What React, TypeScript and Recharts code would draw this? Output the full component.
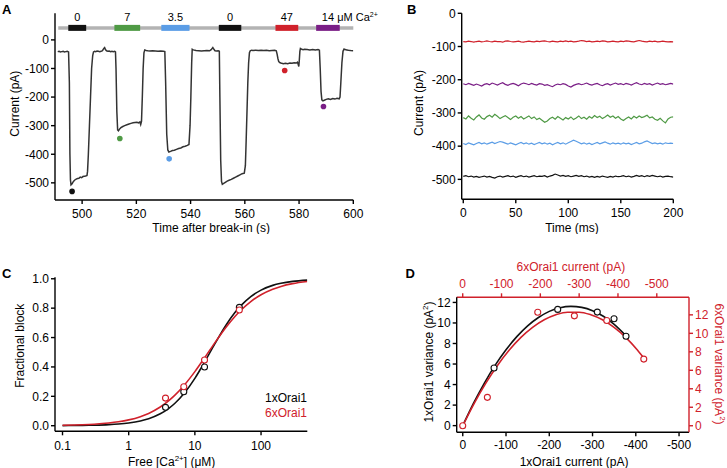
import React from 'react';
import { ComposedChart, Line, Scatter, XAxis, YAxis, ReferenceLine, Cell } from 'recharts';

const FONT = '"Liberation Sans", Arial, Helvetica, sans-serif';
const RED = '#d0212b';
const GREEN = '#4f9a45';
const BLUE = '#5b9de6';
const PURPLE = '#7a1e86';
const BLACK = '#111111';

// ---------- Panel A data ----------
const aTime = [
  491, 491.5, 492, 492.5, 493, 493.5, 494, 494.5, 495,
  495.3, 495.5, 495.7, 495.9, 496.3, 496.8, 497.3, 497.8, 498.3, 498.8, 499.3, 499.8, 500.3, 500.8, 501.3, 501.8,
  502.0, 502.3, 502.7, 503.1, 503.5, 503.9, 504.2, 504.6, 505, 505.5, 506, 506.5, 507, 507.5, 508.0, 508.3, 508.6, 509, 509.5, 510, 510.5, 511, 511.5, 512, 512.3,
  512.5, 512.8, 513.1, 513.4, 513.8, 514.3, 515, 515.7, 516.5, 517.3, 518, 518.8, 519.5, 520.2, 520.8, 521.3, 521.6, 521.9, 522.2, 522.5, 522.8, 523.1, 523.6, 524.2, 525, 526, 527, 528, 529, 530, 530.5,
  530.8, 531.2, 531.6, 532, 532.6, 533.3, 534, 534.8, 535.6, 536.4, 537.2, 538, 538.8, 539.4, 539.8, 540.1, 540.4, 540.6, 541, 542, 543, 544, 545, 546, 547, 547.6, 548.2, 548.6, 549, 549.6, 550.2, 550.6,
  550.8, 551.1, 551.4, 551.7, 552.2, 552.8, 553.5, 554.2, 555, 555.8, 556.6, 557.4, 558.2, 559, 559.8, 560.2, 560.5, 560.8, 561.1, 561.4, 561.7, 562, 562.5, 563, 564, 565, 566, 567, 568, 569, 570, 571, 571.6,
  571.9, 572.2, 572.5, 573, 573.6, 574.2, 575, 575.8, 576.6, 577.4, 578.2, 579, 579.4, 579.7, 579.9, 580.1, 580.3, 580.5, 581, 581.5, 582, 583, 584, 585, 586, 587, 587.5,
  587.8, 588.1, 588.4, 588.8, 589.3, 590, 590.8, 591.6, 592.4, 593.2, 594, 594.8, 595.1, 595.4, 595.8, 596.2, 596.6, 597, 597.6, 598.2, 599, 600,
];
const aCurrent = [
  -41, -40, -42, -41, -40, -42, -41, -40, -42,
  -150, -400, -490, -507, -503, -495, -490, -487, -485, -484, -480, -482, -478, -477, -476, -474,
  -460, -400, -300, -200, -100, -55, -42, -40, -41, -39, -40, -41, -40, -38, -30, -27, -34, -38, -40, -39, -41, -40, -41, -40, -42,
  -100, -250, -315, -318, -312, -307, -303, -300, -297, -294, -292, -290, -289, -288, -290, -287, -296, -285, -200, -100, -45, -35, -37, -38, -39, -38, -39, -40, -39, -40, -41,
  -150, -330, -385, -392, -390, -387, -386, -383, -380, -378, -374, -372, -369, -366, -300, -200, -80, -33, -35, -37, -38, -39, -38, -37, -38, -34, -27, -33, -38, -39, -38, -40,
  -200, -420, -495, -505, -502, -498, -494, -491, -488, -484, -480, -476, -472, -468, -466, -440, -350, -250, -150, -80, -45, -38, -36, -37, -36, -37, -36, -37, -36, -38, -37, -36, -38,
  -50, -65, -76, -80, -82, -83, -82, -83, -81, -82, -80, -81, -78, -86, -93, -70, -40, -30, -33, -34, -33, -34, -35, -34, -35, -34, -36,
  -100, -180, -210, -213, -211, -208, -206, -208, -205, -207, -204, -206, -200, -150, -80, -40, -32, -34, -35, -36, -37, -38,
];
const aDotTime = [496.3, 513.9, 532.1, 574.7, 589.0];
const aDotCurrent = [-530, -345, -416, -107, -233];
const aDotColors = [BLACK, GREEN, BLUE, RED, PURPLE];
const aTicksX = [500, 520, 540, 560, 580, 600];
const aTicksY = [0, -100, -200, -300, -400, -500];
const barStart = [494.9, 511.9, 529.2, 550.4, 571.3, 586.3];
const barEnd = [501.5, 521.4, 539.6, 558.7, 579.7, 595.0];
const barLabels = ['0', '7', '3.5', '0', '47', '14'];
const barUnits = ['', '', '', '', '', ' \u03bcM Ca'];
const barColors = [BLACK, GREEN, BLUE, BLACK, RED, PURPLE];
const BAR_LEVEL = 42;
const BAR_FROM = 491.2;
const BAR_TO = 600;

// ---------- Panel B data ----------
const bTime = [
  0, 2.5, 5, 7.5, 10, 12.5, 15, 17.5, 20, 22.5, 25, 27.5, 30, 32.5, 35, 37.5, 40, 42.5, 45, 47.5,
  50, 52.5, 55, 57.5, 60, 62.5, 65, 67.5, 70, 72.5, 75, 77.5, 80, 82.5, 85, 87.5, 90, 92.5, 95, 97.5,
  100, 102.5, 105, 107.5, 110, 112.5, 115, 117.5, 120, 122.5, 125, 127.5, 130, 132.5, 135, 137.5, 140, 142.5, 145, 147.5,
  150, 152.5, 155, 157.5, 160, 162.5, 165, 167.5, 170, 172.5, 175, 177.5, 180, 182.5, 185, 187.5, 190, 192.5, 195, 197.5, 200,
];
const bRed = [
  -85, -86, -84, -85, -87, -85, -84, -86, -85, -83,
  -85, -86, -84, -85, -85, -87, -84, -83, -85, -86,
  -85, -84, -86, -87, -85, -84, -85, -86, -84, -85,
  -84, -83, -85, -86, -84, -85, -86, -84, -85, -83,
  -85, -84, -86, -85, -84, -82, -83, -85, -84, -86,
  -85, -84, -85, -83, -84, -86, -85, -84, -85, -86,
  -84, -85, -83, -84, -85, -86, -84, -82, -84, -85,
  -86, -84, -85, -84, -86, -85, -84, -85, -86, -85,
  -86,
];
const bPurple = [
  -212, -215, -211, -214, -217, -213, -216, -219, -214, -212,
  -215, -210, -213, -216, -212, -209, -214, -217, -213, -211,
  -214, -218, -213, -210, -212, -215, -211, -214, -216, -212,
  -213, -217, -215, -218, -221, -216, -213, -215, -212, -214,
  -219, -222, -217, -214, -212, -215, -213, -210, -214, -216,
  -213, -211, -215, -218, -214, -212, -216, -213, -210, -214,
  -212, -215, -211, -213, -216, -212, -209, -213, -215, -211,
  -214, -212, -216, -213, -210, -214, -212, -215, -213, -211,
  -213,
];
const bGreen = [
  -314, -318, -309, -316, -321, -312, -306, -315, -319, -311,
  -307, -313, -304, -310, -317, -312, -308, -314, -320, -313,
  -309, -316, -311, -318, -314, -309, -317, -312, -320, -316,
  -322, -328, -324, -317, -313, -319, -311, -316, -321, -314,
  -318, -312, -320, -315, -309, -317, -313, -319, -311, -316,
  -308, -314, -310, -317, -312, -306, -313, -309, -316, -311,
  -318, -323, -317, -312, -318, -310, -315, -309, -314, -311,
  -307, -315, -312, -319, -322, -316, -324, -330, -318, -313,
  -312,
];
const bBlue = [
  -392, -395, -390, -393, -396, -392, -389, -393, -390, -394,
  -391, -388, -392, -389, -386, -388, -391, -394, -390, -393,
  -396, -392, -389, -393, -390, -394, -391, -395, -392, -389,
  -393, -390, -394, -391, -396, -392, -389, -393, -390, -394,
  -390, -386, -382, -385, -389, -393, -390, -394, -391, -395,
  -392, -389, -393, -390, -387, -391, -394, -390, -393, -391,
  -394, -390, -393, -391, -395, -392, -389, -393, -391, -387,
  -384, -388, -392, -390, -393, -391, -394, -390, -392, -391,
  -392,
];
const bBlack = [
  -491, -489, -492, -490, -493, -491, -494, -492, -490, -493,
  -491, -494, -496, -492, -490, -493, -491, -489, -492, -490,
  -494, -491, -489, -492, -490, -493, -491, -489, -492, -490,
  -491, -489, -493, -490, -488, -484, -487, -490, -488, -491,
  -489, -492, -490, -488, -491, -489, -492, -490, -493, -491,
  -494, -491, -493, -490, -492, -494, -491, -493, -490, -492,
  -491, -489, -492, -490, -493, -491, -488, -491, -489, -492,
  -489, -491, -488, -490, -492, -490, -493, -491, -490, -492,
  -493,
];
const bTicksX = [0, 50, 100, 150, 200];
const bTicksY = [0, -100, -200, -300, -400, -500];

// ---------- Panel C data ----------
const cCurveX = [0.1, 0.15, 0.2, 0.3, 0.5, 0.7, 1, 1.5, 2, 3, 4, 5, 7, 10, 14, 20, 30, 40, 50, 70, 100, 150, 200, 300, 500];
const cCurveBlack = [0.0008, 0.0013, 0.002, 0.0035, 0.0071, 0.0114, 0.0186, 0.0323, 0.0476, 0.081, 0.1165, 0.1527, 0.2241, 0.3223, 0.4324, 0.5566, 0.689, 0.768, 0.819, 0.879, 0.923, 0.955, 0.969, 0.982, 0.991];
const cCurveRed = [0.0029, 0.0046, 0.0064, 0.0102, 0.0182, 0.0266, 0.0396, 0.0617, 0.0838, 0.1273, 0.1688, 0.2079, 0.2788, 0.368, 0.4617, 0.5638, 0.6732, 0.7415, 0.7876, 0.8452, 0.8916, 0.9292, 0.9481, 0.9668, 0.9813];
const cPointX = [3.6, 6.8, 14, 47];
const cPointBlack = [0.125, 0.231, 0.4, 0.805];
const cPointRed = [0.188, 0.265, 0.447, 0.787];
const cTicksX = [0.1, 1, 10, 100];
const cTicksY = [0, 0.2, 0.4, 0.6, 0.8, 1.0];

// ---------- Panel D data ----------
const dBlackI = [0, -25, -50, -75, -100, -125, -150, -175, -200, -225, -250, -275, -300, -325, -350, -378];
const dBlackV = [0, 2.19, 4.15, 5.89, 7.39, 8.67, 9.72, 10.53, 11.13, 11.49, 11.62, 11.52, 11.2, 10.65, 9.86, 8.72];
const dRedI = [0, -30, -60, -90, -120, -150, -180, -210, -240, -270, -300, -330, -360, -390, -420, -450, -466];
const dRedV = [0, 2.46, 4.64, 6.55, 8.19, 9.56, 10.65, 11.47, 12.01, 12.29, 12.29, 12.01, 11.47, 10.65, 9.56, 8.19, 7.35];
const dBlackPtI = [-72.3, -219.5, -311, -349.7, -377.4];
const dBlackPtV = [5.61, 11.32, 11.06, 10.41, 8.7];
const dRedPtI = [0, -63.5, -193.3, -287.7, -371.1, -466.5];
const dRedPtV = [0, 3.07, 12.29, 11.89, 11.39, 7.21];
const dTicksX = [0, -100, -200, -300, -400, -500];
const dTicksY = [0, 2, 4, 6, 8, 10, 12];

const zip = (xs: number[], ys: number[]) => xs.map((x, i) => ({ x, y: ys[i] }));

const aData = zip(aTime, aCurrent);
const aDots = zip(aDotTime, aDotCurrent);
const bSeries = [
  { name: 'red', color: RED, data: zip(bTime, bRed) },
  { name: 'purple', color: PURPLE, data: zip(bTime, bPurple) },
  { name: 'green', color: GREEN, data: zip(bTime, bGreen) },
  { name: 'blue', color: BLUE, data: zip(bTime, bBlue) },
  { name: 'black', color: BLACK, data: zip(bTime, bBlack) },
];
const cBlackCurve = zip(cCurveX, cCurveBlack);
const cRedCurve = zip(cCurveX, cCurveRed);
const cBlackPts = zip(cPointX, cPointBlack);
const cRedPts = zip(cPointX, cPointRed);
const dBlackCurve = zip(dBlackI, dBlackV);
const dRedCurve = zip(dRedI, dRedV);
const dBlackPts = zip(dBlackPtI, dBlackPtV);
const dRedPts = zip(dRedPtI, dRedPtV);

// ---------- styling helpers ----------
const FS = 12;
const MU = '\u03bc';
const axisLine = (c = '#000') => ({ stroke: c, strokeWidth: 1.4 });
const tickStyle = (c = '#000') => ({ fill: c, fontSize: FS, fontFamily: FONT });

const xLabel = (content: React.ReactNode, dx: number, dy: number, color = '#000') => (props: any) => {
  const vb = props.viewBox || {};
  return (
    <text x={vb.x + vb.width / 2 + dx} y={vb.y + dy} textAnchor="middle" dominantBaseline="central"
      fontSize={FS} fontFamily={FONT} fill={color}>{content}</text>
  );
};
const yLabel = (content: React.ReactNode, cx: number, dy: number, rot: number, color = '#000') => (props: any) => {
  const vb = props.viewBox || {};
  const x = vb.x + cx;
  const y = vb.y + vb.height / 2 + dy;
  return (
    <text x={x} y={y} transform={`rotate(${rot} ${x} ${y})`} textAnchor="middle" dominantBaseline="central"
      fontSize={FS} fontFamily={FONT} fill={color}>{content}</text>
  );
};
const barLabel = (i: number) => (props: any) => {
  const vb = props.viewBox || {};
  const cx = vb.x + vb.width / 2;
  const y = vb.y - 10.7;
  if (barUnits[i]) {
    return (
      <text x={cx - 6.1} y={y} textAnchor="start" dominantBaseline="central" fontSize={11} fontFamily={FONT} fill="#000">
        {barLabels[i]}{barUnits[i]}<tspan dy={-3.5} fontSize={7}>2+</tspan>
      </text>
    );
  }
  return (
    <text x={cx} y={y} textAnchor="middle" dominantBaseline="central" fontSize={11} fontFamily={FONT} fill="#000">{barLabels[i]}</text>
  );
};
const openCircle = (color: string) => (p: any) => (
  <circle cx={p.cx} cy={p.cy} r={3} fill="#fff" stroke={color} strokeWidth={1.1} />
);
const filledDot = (p: any) => <circle cx={p.cx} cy={p.cy} r={2.8} fill={p.fill} />;
const sup = (s: string) => <tspan dy={-4} fontSize={8}>{s}</tspan>;

function PanelA() {
  return (
    <ComposedChart width={385} height={234} margin={{ top: 13.3, right: 31.7, bottom: 0, left: 0 }}>
      <XAxis type="number" dataKey="x" domain={[490, 600]} ticks={aTicksX} interval={0} allowDataOverflow
        height={34} tickSize={4} tickMargin={5} axisLine={axisLine()} tickLine={axisLine()} tick={tickStyle()}
        label={xLabel('Time after break-in (s)', 7, 28.3)} />
      <YAxis type="number" dataKey="y" domain={[-560, 93]} ticks={aTicksY} interval={0} allowDataOverflow
        width={55} tickSize={4} axisLine={axisLine()} tickLine={axisLine()} tick={tickStyle()}
        label={yLabel('Current (pA)', 15, -3, -90)} />
      <ReferenceLine segment={[{ x: BAR_FROM, y: BAR_LEVEL }, { x: BAR_TO, y: BAR_LEVEL }]} stroke="#b3b3b3" strokeWidth={3.5} />
      {barStart.map((s, i) => (
        <ReferenceLine key={i} segment={[{ x: s, y: BAR_LEVEL }, { x: barEnd[i], y: BAR_LEVEL }]}
          stroke={barColors[i]} strokeWidth={6} label={barLabel(i)} />
      ))}
      <Line data={aData} dataKey="y" type="linear" stroke="#333" strokeWidth={1.5} dot={false} isAnimationActive={false} />
      <Scatter data={aDots} dataKey="y" shape={filledDot} isAnimationActive={false}>
        {aDotColors.map((c, i) => <Cell key={i} fill={c} />)}
      </Scatter>
    </ComposedChart>
  );
}

function PanelB() {
  return (
    <ComposedChart width={363} height={234} margin={{ top: 13.3, right: 53.7, bottom: 0, left: 0 }}>
      <XAxis type="number" dataKey="x" domain={[-1.5, 200]} ticks={bTicksX} interval={0} allowDataOverflow
        height={34.7} tickSize={4} tickMargin={5} axisLine={axisLine()} tickLine={axisLine()} tick={tickStyle()}
        label={xLabel('Time (ms)', 4.5, 28.7)} />
      <YAxis type="number" dataKey="y" domain={[-560, 0]} ticks={bTicksY} interval={0} allowDataOverflow
        width={97.7} tickSize={4} axisLine={axisLine()} tickLine={axisLine()} tick={tickStyle()}
        label={yLabel('Current (pA)', 55, -3.3, -90)} />
      {bSeries.map((s) => (
        <Line key={s.name} data={s.data} dataKey="y" type="linear" stroke={s.color} strokeWidth={1.2} dot={false} isAnimationActive={false} />
      ))}
    </ComposedChart>
  );
}

function PanelC() {
  return (
    <ComposedChart width={364} height={234} margin={{ top: 43.3, right: 56.7, bottom: 0, left: 0 }}>
      <XAxis type="number" dataKey="x" scale="log" domain={[0.077, 500]} ticks={cTicksX} interval={0} allowDataOverflow
        height={36.7} tickSize={4} tickMargin={6} axisLine={axisLine()} tickLine={axisLine()} tick={tickStyle()}
        tickFormatter={(v: number) => String(v)}
        label={xLabel(<>Free [Ca{sup('2+')}<tspan dy={4}>{`] (${MU}M)`}</tspan></>, -9.5, 30.4)} />
      <YAxis type="number" dataKey="y" domain={[-0.038, 1.01]} ticks={cTicksY} interval={0} allowDataOverflow
        width={55} tickSize={4} axisLine={axisLine()} tickLine={axisLine()} tick={tickStyle()}
        tickFormatter={(v: number) => v.toFixed(1)}
        label={yLabel('Fractional block', 20, -8.6, -90)} />
      <Line data={cBlackCurve} dataKey="y" type="monotone" stroke={BLACK} strokeWidth={1.6} dot={false} isAnimationActive={false} />
      <Line data={cRedCurve} dataKey="y" type="monotone" stroke={RED} strokeWidth={1.6} dot={false} isAnimationActive={false} />
      <Scatter data={cBlackPts} dataKey="y" shape={openCircle(BLACK)} isAnimationActive={false} />
      <Scatter data={cRedPts} dataKey="y" shape={openCircle(RED)} isAnimationActive={false} />
    </ComposedChart>
  );
}

function PanelD() {
  return (
    <ComposedChart width={363} height={234} margin={{ top: 0, right: 0, bottom: 0, left: 0 }}>
      <XAxis xAxisId="b" type="number" dataKey="x" domain={[-523, 14]} reversed ticks={dTicksX} interval={0} allowDataOverflow
        height={35.7} tickSize={4} tickMargin={4} axisLine={axisLine()} tickLine={axisLine()} tick={tickStyle()}
        label={xLabel('1xOrai1 current (pA)', 1.2, 30)} />
      <XAxis xAxisId="t" orientation="top" type="number" dataKey="x" domain={[-583, 15.5]} reversed ticks={dTicksX} interval={0} allowDataOverflow
        height={63.3} tickSize={4} tickMargin={5} axisLine={axisLine(RED)} tickLine={axisLine(RED)} tick={tickStyle(RED)}
        label={xLabel('6xOrai1 current (pA)', -2, 33.3, RED)} />
      <YAxis yAxisId="l" type="number" dataKey="y" domain={[-0.65, 12.5]} ticks={dTicksY} interval={0} allowDataOverflow
        width={92.7} tickSize={4} axisLine={axisLine()} tickLine={axisLine()} tick={tickStyle()}
        label={yLabel(<>1xOrai1 variance (pA{sup('2')}<tspan dy={4}>)</tspan></>, 65, -2.8, -90)} />
      <YAxis yAxisId="r" orientation="right" type="number" dataKey="y" domain={[-0.71, 13.9]} ticks={dTicksY} interval={0} allowDataOverflow
        width={38} tickSize={4} axisLine={axisLine(RED)} tickLine={axisLine(RED)} tick={tickStyle(RED)}
        label={yLabel(<>6xOrai1 variance (pA{sup('2')}<tspan dy={4}>)</tspan></>, 30, -0.8, 90, RED)} />
      <Line xAxisId="b" yAxisId="l" data={dBlackCurve} dataKey="y" type="monotone" stroke={BLACK} strokeWidth={1.6} dot={false} isAnimationActive={false} />
      <Line xAxisId="t" yAxisId="r" data={dRedCurve} dataKey="y" type="monotone" stroke={RED} strokeWidth={1.6} dot={false} isAnimationActive={false} />
      <Scatter xAxisId="t" yAxisId="r" data={dRedPts} dataKey="y" shape={openCircle(RED)} isAnimationActive={false} />
      <Scatter xAxisId="b" yAxisId="l" data={dBlackPts} dataKey="y" shape={openCircle(BLACK)} isAnimationActive={false} />
    </ComposedChart>
  );
}

export default function App() {
  const letter = { fontSize: 13, fontWeight: 700, fontFamily: FONT, fill: '#000' } as const;
  return (
    <div style={{ position: 'absolute', left: 0, top: 0, width: 727, height: 468, background: '#fff', overflow: 'hidden' }}>
      <div style={{ position: 'absolute', left: 364, top: 0 }}><PanelB /></div>
      <div style={{ position: 'absolute', left: 0, top: 0 }}><PanelA /></div>
      <div style={{ position: 'absolute', left: 0, top: 234 }}><PanelC /></div>
      <div style={{ position: 'absolute', left: 364, top: 234 }}><PanelD /></div>
      <svg width={727} height={468} style={{ position: 'absolute', left: 0, top: 0, pointerEvents: 'none' }}>
        <text x={2} y={13.5} {...letter}>A</text>
        <text x={407} y={13.5} {...letter}>B</text>
        <text x={2} y={277.5} {...letter}>C</text>
        <text x={405.5} y={277.5} {...letter}>D</text>
        <text x={307} y={398.3} textAnchor="end" dominantBaseline="central" fontSize={FS} fontFamily={FONT} fill="#000">1xOrai1</text>
        <text x={307} y={413} textAnchor="end" dominantBaseline="central" fontSize={FS} fontFamily={FONT} fill={RED}>6xOrai1</text>
      </svg>
    </div>
  );
}
